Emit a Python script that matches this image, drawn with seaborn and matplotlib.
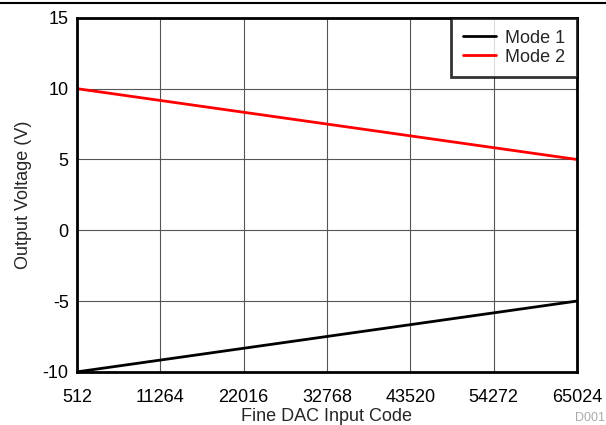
import numpy as np
import pandas as pd
import matplotlib
matplotlib.use("Agg")
import matplotlib.pyplot as plt
import seaborn as sns

# data
codes = [512, 65024]
mode1 = [-10, -5]
mode2 = [10, 5]
xticks = [512, 11264, 22016, 32768, 43520, 54272, 65024]
yticks = [-10, -5, 0, 5, 10, 15]

df = pd.DataFrame({
    "code": codes + codes,
    "volt": mode1 + mode2,
    "mode": ["Mode 1"] * 2 + ["Mode 2"] * 2,
})

sns.set_style("white")
plt.rcParams["font.family"] = ["Liberation Sans", "DejaVu Sans"]
plt.rcParams["axes.unicode_minus"] = False

fig = plt.figure(figsize=(6.06, 4.25), dpi=100)
ax = fig.add_axes([0.127, 0.125, 0.825, 0.833])

sns.lineplot(data=df, x="code", y="volt", hue="mode",
             palette={"Mode 1": "black", "Mode 2": "red"},
             linewidth=2, ax=ax)

ax.set_xlim(512, 65024)
ax.set_ylim(-10, 15)
ax.set_xticks(xticks)
ax.set_yticks(yticks)
ax.grid(True, color="#555555", linewidth=0.8)
ax.tick_params(labelsize=13, length=0, colors="black")
ax.tick_params(axis="x", pad=12)
ax.tick_params(axis="y", pad=6)
for s in ax.spines.values():
    s.set_color("black")
    s.set_linewidth(2)
ax.set_xlabel("Fine DAC Input Code", fontsize=13, labelpad=2)
ax.set_ylabel("Output Voltage (V)", fontsize=13, labelpad=8)

leg = ax.legend(loc="upper right", fontsize=13, frameon=True, fancybox=False,
                borderaxespad=0, handlelength=1.85, handletextpad=0.5,
                borderpad=0.65, labelspacing=0.12)
leg.get_frame().set_edgecolor("black")
leg.get_frame().set_linewidth(2)

# top rule and figure id
fig.add_artist(plt.Line2D([0, 1], [0.993, 0.993], color="black", linewidth=1.5))
fig.text(0.949, 0.002, "D001", fontsize=9, color="#aaaaaa", ha="left", va="bottom")

fig.savefig("out.png", dpi=100)
